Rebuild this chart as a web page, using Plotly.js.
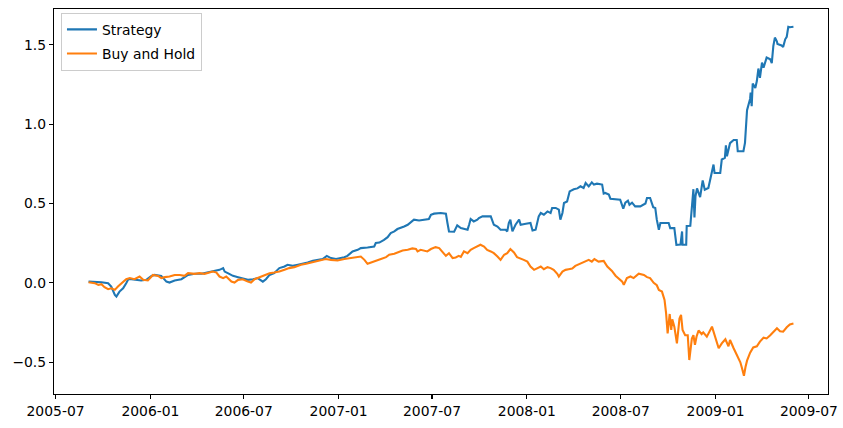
<!DOCTYPE html>
<html>
<head>
<meta charset="utf-8">
<script src="https://cdn.plot.ly/plotly-3.0.1.min.js"></script>
<style>html,body{margin:0;padding:0;background:#fff;}#chart{width:843px;height:428px;}</style>
</head>
<body>
<div id="chart"></div>
<script>
// Strategy cumulative return
const strategyDates = [
"2005-09-03","2005-09-15","2005-09-28","2005-10-11","2005-10-17","2005-10-24","2005-10-27","2005-11-02","2005-11-09","2005-11-15",
"2005-11-19","2005-11-25","2005-12-08","2005-12-14","2005-12-24","2006-01-03","2006-01-09","2006-01-22","2006-02-01","2006-02-07",
"2006-02-17","2006-03-02","2006-03-15","2006-03-28","2006-04-10","2006-04-23","2006-05-05","2006-05-15","2006-05-22","2006-05-25",
"2006-05-31","2006-06-10","2006-06-20","2006-06-29","2006-07-09","2006-07-19","2006-07-28","2006-08-07","2006-08-13","2006-08-20",
"2006-08-29","2006-09-08","2006-09-18","2006-09-24","2006-10-04","2006-10-14","2006-10-23","2006-11-02","2006-11-12","2006-11-21",
"2006-12-01","2006-12-09","2006-12-17","2006-12-27","2007-01-05","2007-01-12","2007-01-18","2007-01-28","2007-02-07","2007-02-13",
"2007-02-26","2007-03-11","2007-03-14","2007-03-21","2007-03-30","2007-04-06","2007-04-12","2007-04-19","2007-04-25","2007-05-02",
"2007-05-08","2007-05-15","2007-05-21","2007-05-27","2007-06-06","2007-06-16","2007-06-25","2007-06-29","2007-07-05","2007-07-18",
"2007-07-28","2007-07-31","2007-08-03","2007-08-13","2007-08-19","2007-08-26","2007-09-01","2007-09-08","2007-09-11","2007-09-14",
"2007-09-20","2007-09-27","2007-09-30","2007-10-07","2007-10-23","2007-10-26","2007-10-29","2007-11-05","2007-11-11","2007-11-21",
"2007-11-24","2007-11-27","2007-11-30","2007-12-04","2007-12-10","2007-12-17","2007-12-20","2007-12-30","2008-01-08","2008-01-12",
"2008-01-18","2008-01-24","2008-01-28","2008-02-03","2008-02-10","2008-02-16","2008-02-19","2008-02-26","2008-03-03","2008-03-06",
"2008-03-10","2008-03-13","2008-03-19","2008-03-24","2008-04-01","2008-04-08","2008-04-14","2008-04-20","2008-04-24","2008-04-30",
"2008-05-06","2008-05-10","2008-05-16","2008-05-26","2008-05-29","2008-06-01","2008-06-08","2008-06-11","2008-06-24","2008-06-30",
"2008-07-06","2008-07-10","2008-07-15","2008-07-18","2008-07-23","2008-07-29","2008-08-08","2008-08-18","2008-08-21","2008-08-27",
"2008-09-02","2008-09-06","2008-09-09","2008-09-13","2008-09-16","2008-10-02","2008-10-05","2008-10-13","2008-10-17","2008-10-25",
"2008-10-28","2008-10-29","2008-11-05","2008-11-06","2008-11-13","2008-11-16","2008-11-19","2008-11-21","2008-11-23","2008-11-26",
"2008-12-02","2008-12-07","2008-12-11","2008-12-18","2008-12-25","2008-12-28","2008-12-30","2009-01-10","2009-01-13","2009-01-19",
"2009-01-21","2009-01-23","2009-01-29","2009-02-05","2009-02-11","2009-02-13","2009-02-24","2009-02-27","2009-03-03","2009-03-09",
"2009-03-10","2009-03-12","2009-03-14","2009-03-19","2009-03-22","2009-03-25","2009-03-28","2009-04-01","2009-04-04","2009-04-10",
"2009-04-17","2009-04-20","2009-04-23","2009-04-26","2009-04-30","2009-05-01","2009-05-09","2009-05-12","2009-05-16","2009-05-19",
"2009-05-22","2009-05-25","2009-06-01"
];
const strategyValues = [
0.008,0.008,0.004,-0.002,-0.023,-0.076,-0.086,-0.055,-0.034,-0.002,
0.023,0.023,0.019,0.015,0.019,0.044,0.050,0.044,0.008,0.002,
0.015,0.023,0.050,0.057,0.057,0.065,0.076,0.082,0.093,0.071,
0.061,0.044,0.036,0.030,0.019,0.023,0.030,0.008,0.023,0.050,
0.061,0.093,0.103,0.114,0.107,0.114,0.120,0.128,0.139,0.145,
0.150,0.170,0.156,0.150,0.156,0.162,0.170,0.198,0.208,0.219,
0.223,0.229,0.251,0.254,0.271,0.288,0.314,0.324,0.339,0.345,
0.355,0.366,0.381,0.398,0.393,0.398,0.402,0.429,0.436,0.440,
0.436,0.377,0.324,0.322,0.362,0.345,0.339,0.335,0.366,0.402,
0.387,0.398,0.408,0.419,0.419,0.398,0.366,0.355,0.335,0.335,
0.324,0.377,0.398,0.324,0.366,0.398,0.366,0.372,0.377,0.330,
0.335,0.419,0.440,0.429,0.450,0.440,0.472,0.472,0.461,0.398,
0.440,0.503,0.513,0.576,0.589,0.595,0.608,0.598,0.629,0.608,
0.633,0.619,0.625,0.619,0.562,0.566,0.556,0.530,0.528,0.524,
0.468,0.505,0.518,0.492,0.505,0.482,0.482,0.500,0.535,0.535,
0.477,0.472,0.398,0.335,0.377,0.377,0.345,0.345,0.240,0.242,
0.324,0.240,0.240,0.358,0.360,0.505,0.590,0.412,0.545,0.595,
0.540,0.645,0.587,0.598,0.713,0.745,0.692,0.692,0.777,0.787,
0.866,0.797,0.880,0.900,0.900,0.829,0.829,0.882,1.087,1.160,
1.198,1.113,1.255,1.228,1.271,1.350,1.292,1.387,1.355,1.419,
1.408,1.384,1.492,1.545,1.520,1.505,1.495,1.485,1.534,1.550,
1.613,1.610,1.613
];

// Buy and Hold cumulative return
const buyHoldDates = [
"2005-09-03","2005-09-15","2005-09-22","2005-09-28","2005-10-04","2005-10-11","2005-10-17","2005-10-24","2005-10-30","2005-11-06",
"2005-11-15","2005-11-22","2005-12-01","2005-12-11","2005-12-18","2005-12-27","2006-01-06","2006-01-16","2006-01-22","2006-01-29",
"2006-02-07","2006-02-17","2006-02-27","2006-03-08","2006-03-15","2006-03-28","2006-04-06","2006-04-16","2006-04-23","2006-05-02",
"2006-05-09","2006-05-15","2006-05-22","2006-05-28","2006-06-07","2006-06-13","2006-06-20","2006-06-29","2006-07-09","2006-07-15",
"2006-07-22","2006-07-31","2006-08-10","2006-08-20","2006-08-29","2006-09-08","2006-09-18","2006-09-27","2006-10-07","2006-10-20",
"2006-10-30","2006-11-08","2006-11-18","2006-11-28","2006-12-07","2006-12-17","2006-12-30","2007-01-12","2007-01-25","2007-02-04",
"2007-02-13","2007-02-20","2007-02-26","2007-03-05","2007-03-11","2007-03-18","2007-03-24","2007-04-03","2007-04-09","2007-04-19",
"2007-04-25","2007-05-05","2007-05-15","2007-05-24","2007-05-31","2007-06-03","2007-06-09","2007-06-16","2007-06-22","2007-06-29",
"2007-07-08","2007-07-15","2007-07-21","2007-07-28","2007-08-03","2007-08-10","2007-08-16","2007-08-22","2007-08-26","2007-09-01",
"2007-09-08","2007-09-14","2007-09-20","2007-09-27","2007-10-03","2007-10-10","2007-10-16","2007-10-23","2007-10-29","2007-11-05",
"2007-11-11","2007-11-18","2007-11-24","2007-11-30","2007-12-07","2007-12-13","2007-12-20","2007-12-26","2008-01-02","2008-01-08",
"2008-01-15","2008-01-21","2008-01-28","2008-02-03","2008-02-10","2008-02-16","2008-02-22","2008-02-29","2008-03-03","2008-03-10",
"2008-03-16","2008-03-22","2008-03-29","2008-04-04","2008-04-11","2008-04-14","2008-04-24","2008-04-30","2008-05-06","2008-05-11",
"2008-05-19","2008-05-29","2008-06-05","2008-06-14","2008-06-21","2008-06-27","2008-07-04","2008-07-07","2008-07-13","2008-07-20",
"2008-07-26","2008-08-05","2008-08-15","2008-08-21","2008-08-27","2008-09-03","2008-09-09","2008-09-13","2008-09-19","2008-09-24",
"2008-09-27","2008-09-30","2008-10-04","2008-10-07","2008-10-09","2008-10-13","2008-10-18","2008-10-23","2008-10-26","2008-10-29",
"2008-11-03","2008-11-08","2008-11-11","2008-11-16","2008-11-19","2008-11-22","2008-11-25","2008-11-29","2008-12-05","2008-12-08",
"2008-12-15","2008-12-25","2008-12-31","2009-01-07","2009-01-13","2009-01-20","2009-01-26","2009-01-29","2009-02-05","2009-02-11",
"2009-02-18","2009-02-21","2009-02-25","2009-02-28","2009-03-03","2009-03-09","2009-03-15","2009-03-22","2009-03-28","2009-04-04",
"2009-04-10","2009-04-17","2009-04-23","2009-04-30","2009-05-06","2009-05-12","2009-05-19","2009-05-25","2009-06-01"
];
const buyHoldValues = [
0.004,-0.002,-0.013,-0.008,-0.027,-0.040,-0.034,-0.044,-0.023,-0.002,
0.023,0.030,0.023,0.040,0.019,0.015,0.050,0.044,0.030,0.036,
0.040,0.050,0.050,0.044,0.061,0.057,0.061,0.057,0.063,0.071,
0.065,0.040,0.030,0.040,0.008,0.002,0.019,0.023,0.008,0.002,
0.023,0.036,0.050,0.061,0.065,0.071,0.082,0.093,0.099,0.114,
0.120,0.128,0.134,0.141,0.150,0.145,0.141,0.150,0.156,0.162,
0.166,0.145,0.120,0.128,0.134,0.145,0.150,0.162,0.177,0.183,
0.191,0.204,0.208,0.217,0.213,0.198,0.208,0.204,0.198,0.213,
0.225,0.219,0.198,0.170,0.187,0.156,0.160,0.170,0.164,0.198,
0.187,0.208,0.219,0.229,0.240,0.229,0.208,0.198,0.187,0.166,
0.145,0.177,0.187,0.213,0.191,0.162,0.150,0.145,0.134,0.103,
0.082,0.093,0.103,0.086,0.099,0.093,0.082,0.057,0.040,0.071,
0.082,0.086,0.090,0.107,0.118,0.122,0.134,0.145,0.134,0.150,
0.134,0.138,0.103,0.075,0.045,0.030,0.008,-0.013,0.030,0.040,
0.030,0.058,0.050,0.036,0.030,0.000,-0.015,-0.045,-0.055,-0.107,
-0.191,-0.318,-0.196,-0.297,-0.230,-0.276,-0.381,-0.225,-0.202,-0.297,
-0.330,-0.330,-0.486,-0.350,-0.330,-0.390,-0.339,-0.300,-0.323,-0.312,
-0.339,-0.276,-0.333,-0.412,-0.381,-0.355,-0.400,-0.360,-0.412,-0.450,
-0.500,-0.535,-0.585,-0.530,-0.490,-0.440,-0.407,-0.400,-0.370,-0.345,
-0.350,-0.330,-0.308,-0.286,-0.305,-0.307,-0.280,-0.262,-0.256
];

const xTickVals = ["2005-07-01","2006-01-01","2006-07-01","2007-01-01","2007-07-01","2008-01-01","2008-07-01","2009-01-01","2009-07-01"];
const xTickText = ["2005-07","2006-01","2006-07","2007-01","2007-07","2008-01","2008-07","2009-01","2009-07"];
const yTickVals = [-0.5, 0.0, 0.5, 1.0, 1.5];
const yTickText = ["\u22120.5","0.0","0.5","1.0","1.5"];

const font = {family: "DejaVu Sans, sans-serif", size: 13.9, color: "#000"};

const traces = [
  {x: strategyDates, y: strategyValues, type: "scatter", mode: "lines", name: "Strategy",
   line: {color: "#1f77b4", width: 2.1}, legendgroup: "a"},
  {x: buyHoldDates, y: buyHoldValues, type: "scatter", mode: "lines", name: "Buy and Hold",
   line: {color: "#ff7f0e", width: 2.1}, legendgroup: "b"}
];

const layout = {
  width: 843, height: 428,
  margin: {l: 54, r: 15, t: 9, b: 34, pad: 0},
  paper_bgcolor: "#fff", plot_bgcolor: "#fff",
  font: font,
  showlegend: true,
  legend: {x: 0.009, y: 0.99, xanchor: "left", yanchor: "top",
           bgcolor: "rgba(255,255,255,0.8)", bordercolor: "#cccccc", borderwidth: 1,
           font: font, traceorder: "grouped", tracegroupgap: 3},
  xaxis: {type: "date", range: ["2005-06-28", "2009-08-07"], showgrid: false, zeroline: false,
          showline: true, mirror: true, linecolor: "#000", linewidth: 1.1,
          ticks: "outside", ticklen: 4, tickwidth: 1.1, tickcolor: "#000",
          tickvals: xTickVals, ticktext: xTickText, automargin: false, tickfont: font},
  yaxis: {range: [-0.70, 1.725], showgrid: false, zeroline: false,
          showline: true, mirror: true, linecolor: "#000", linewidth: 1.1,
          ticks: "outside", ticklen: 4, tickwidth: 1.1, tickcolor: "#000",
          tickvals: yTickVals, ticktext: yTickText, automargin: false, tickfont: font}
};

Plotly.newPlot("chart", traces, layout, {staticPlot: true, displayModeBar: false});
</script>
</body>
</html>
